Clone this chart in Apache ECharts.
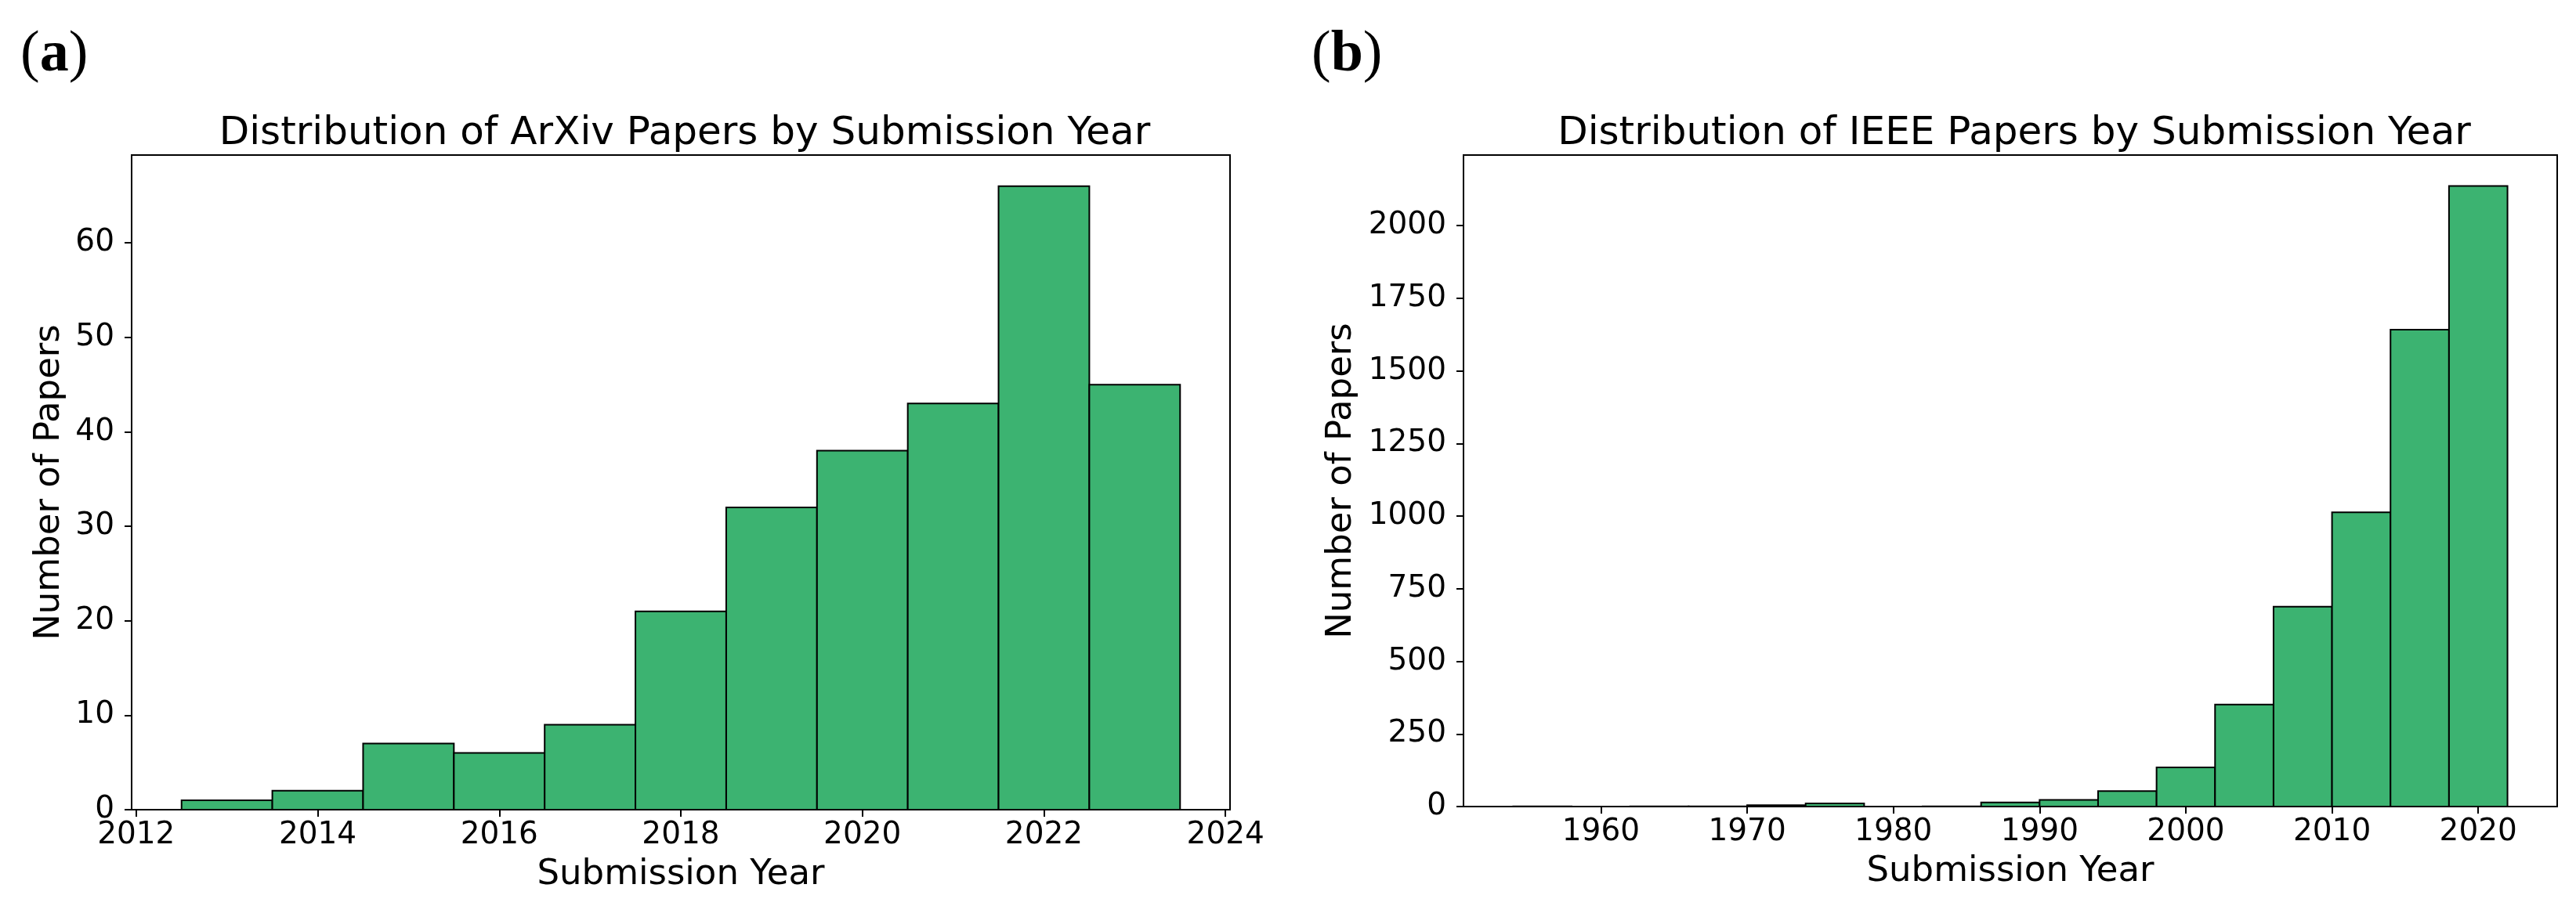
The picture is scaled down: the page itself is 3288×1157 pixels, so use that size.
<!DOCTYPE html>
<html>
<head>
<meta charset="utf-8">
<script src="https://cdn.jsdelivr.net/npm/echarts@6/dist/echarts.min.js"></script>
<style>
html,body{margin:0;padding:0;background:#fff;}
#c{width:3288px;height:1157px;}
</style>
</head>
<body>
<div id="c"></div>
<script>
// ---- Data: (a) ArXiv papers per submission year (bins of 1 year) ----
const arxivBinEdges = [2012.5, 2013.5, 2014.5, 2015.5, 2016.5, 2017.5, 2018.5, 2019.5, 2020.5, 2021.5, 2022.5, 2023.5];
const arxivCounts   = [1, 2, 7, 6, 9, 21, 32, 38, 43, 66, 45];
const arxivXTicks   = [2012, 2014, 2016, 2018, 2020, 2022, 2024];
const arxivYTicks   = [0, 10, 20, 30, 40, 50, 60];

// ---- Data: (b) IEEE papers per submission year (bins of 4 years) ----
const ieeeBinEdges = [1954, 1958, 1962, 1966, 1970, 1974, 1978, 1982, 1986, 1990, 1994, 1998, 2002, 2006, 2010, 2014, 2018, 2022];
const ieeeCounts   = [1, 0, 1, 1, 5, 11, 0, 1, 14, 23, 53, 135, 351, 688, 1013, 1642, 2136];
const ieeeXTicks   = [1960, 1970, 1980, 1990, 2000, 2010, 2020];
const ieeeYTicks   = [0, 250, 500, 750, 1000, 1250, 1500, 1750, 2000];

const titleA = 'Distribution of ArXiv Papers by Submission Year';
const titleB = 'Distribution of IEEE Papers by Submission Year';
const xName = 'Submission Year';
const yName = 'Number of Papers';

const FONT = 'DejaVu Sans';
const BAR = '#3CB371';

function histData(edges, counts) {
  return counts.map((c, i) => [edges[i], edges[i + 1], c]);
}
function histSeries(idx, edges, counts) {
  return {
    type: 'custom',
    xAxisIndex: idx, yAxisIndex: idx,
    data: histData(edges, counts),
    encode: { x: [0, 1], y: 2 },
    renderItem: function (params, api) {
      const p0 = api.coord([api.value(0), api.value(2)]);
      const p1 = api.coord([api.value(1), 0]);
      return {
        type: 'rect',
        shape: { x: p0[0], y: p0[1], width: p1[0] - p0[0], height: p1[1] - p0[1] },
        style: { fill: BAR, stroke: '#000', lineWidth: 2 }
      };
    },
    z: 3
  };
}
function xAxisCfg(idx, min, max, ticks) {
  return {
    type: 'value', gridIndex: idx, min: min, max: max,
    axisLine: { show: true, onZero: false, lineStyle: { color: '#000', width: 2 } },
    axisTick: { show: true, length: 9, lineStyle: { color: '#000', width: 2 }, customValues: ticks },
    axisLabel: { customValues: ticks, fontSize: 39, color: '#000', fontFamily: FONT, margin: 13,
                 formatter: v => String(v) },
    splitLine: { show: false },
    name: xName, nameLocation: 'middle', nameGap: 61,
    nameTextStyle: { fontSize: 45, color: '#000', fontFamily: FONT }
  };
}
function yAxisCfg(idx, max, ticks, gap) {
  return {
    type: 'value', gridIndex: idx, min: 0, max: max,
    axisLine: { show: true, lineStyle: { color: '#000', width: 2 } },
    axisTick: { show: true, length: 9, lineStyle: { color: '#000', width: 2 }, customValues: ticks },
    axisLabel: { customValues: ticks, fontSize: 39, color: '#000', fontFamily: FONT, margin: 22,
                 formatter: v => String(v) },
    splitLine: { show: false },
    name: yName, nameLocation: 'middle', nameGap: gap, nameRotate: 90,
    nameTextStyle: { fontSize: 45, color: '#000', fontFamily: FONT }
  };
}

const chart = echarts.init(document.getElementById('c'), null, { renderer: 'canvas' });
chart.setOption({
  backgroundColor: '#fff',
  animation: false,
  title: [
    { text: titleA, left: 869, top: 141, textAlign: 'center',
      textStyle: { fontSize: 50, fontWeight: 'normal', color: '#000', fontFamily: FONT } },
    { text: titleB, left: 2566, top: 141, textAlign: 'center',
      textStyle: { fontSize: 50, fontWeight: 'normal', color: '#000', fontFamily: FONT } }
  ],
  grid: [
    { left: 168, top: 198, width: 1402, height: 836, show: true, borderColor: '#000', borderWidth: 2, backgroundColor: 'transparent' },
    { left: 1868, top: 198, width: 1396, height: 832, show: true, borderColor: '#000', borderWidth: 2, backgroundColor: 'transparent' }
  ],
  xAxis: [
    xAxisCfg(0, 2011.95, 2024.05, arxivXTicks),
    xAxisCfg(1, 1950.6, 2025.4, ieeeXTicks)
  ],
  yAxis: [
    yAxisCfg(0, 69.3, arxivYTicks, 82),
    yAxisCfg(1, 2242.8, ieeeYTicks, 133)
  ],
  series: [
    histSeries(0, arxivBinEdges, arxivCounts),
    histSeries(1, ieeeBinEdges, ieeeCounts)
  ],
  graphic: [
    { type: 'text', left: 26, top: 34,
      style: { text: '{p|(}{b|a}{p|)}', fill: '#000',
               rich: { p: { fontFamily: 'Liberation Serif', fontSize: 74, fill: '#000' },
                       b: { fontFamily: 'Liberation Serif', fontSize: 74, fontWeight: 'bold', fill: '#000' } } } },
    { type: 'text', left: 1674, top: 34,
      style: { text: '{p|(}{b|b}{p|)}', fill: '#000',
               rich: { p: { fontFamily: 'Liberation Serif', fontSize: 74, fill: '#000' },
                       b: { fontFamily: 'Liberation Serif', fontSize: 74, fontWeight: 'bold', fill: '#000' } } } }
  ]
});
</script>
</body>
</html>
